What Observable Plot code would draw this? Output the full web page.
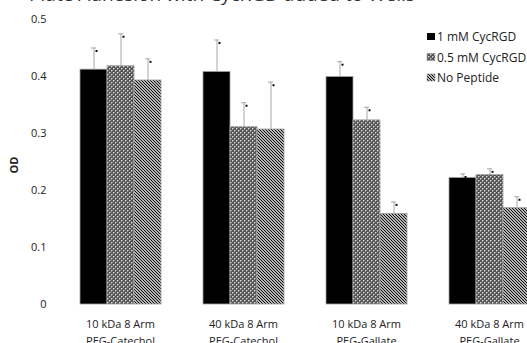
<!DOCTYPE html>
<html>
<head>
<meta charset="utf-8">
<script src="https://cdn.jsdelivr.net/npm/d3@7"></script>
<script src="https://cdn.jsdelivr.net/npm/@observablehq/plot@0.6"></script>
<style>
  html, body { margin: 0; padding: 0; background: white; overflow: hidden; }
  #chart { position: relative; width: 527px; height: 343px; }
</style>
</head>
<body>
<div id="chart"></div>
<script>
// ---- data ----
const groups = [
  "10 kDa 8 Arm\nPEG-Catechol",
  "40 kDa 8 Arm\nPEG-Catechol",
  "10 kDa 8 Arm\nPEG-Gallate",
  "40 kDa 8 Arm\nPEG-Gallate"
];
const series = ["1 mM CycRGD", "0.5 mM CycRGD", "No Peptide"];
const od1mM   = [0.412, 0.408, 0.399, 0.222];
const od05mM  = [0.418, 0.311, 0.323, 0.227];
const odNone  = [0.393, 0.307, 0.159, 0.169];
const err1mM  = [0.038, 0.056, 0.027, 0.007];
const err05mM = [0.057, 0.043, 0.023, 0.011];
const errNone = [0.038, 0.083, 0.021, 0.020];
const yTicks = [0, 0.1, 0.2, 0.3, 0.4, 0.5];
const yLabel = "OD";
const titleText = "Plate Adhesion with CycRGD added to Wells";

const values = [od1mM, od05mM, odNone];
const errors = [err1mM, err05mM, errNone];
const rows = groups.flatMap((g, i) => series.map((s, j) => ({
  group: g, series: s, value: values[j][i], err: errors[j][i]
})));
const fills = ["black", "url(#pat-checker)", "url(#pat-hatch)"];

const plot = Plot.plot({
  width: 527,
  height: 343,
  marginLeft: 78,
  marginRight: -4,
  marginTop: 19,
  marginBottom: 39,
  style: { fontFamily: "Open Sans", fontSize: "11px", color: "#222", background: "white", overflow: "visible" },
  fx: { domain: groups, paddingInner: 0.333, paddingOuter: 0, label: null, axis: null },
  x: { domain: series, padding: 0, axis: null },
  y: { domain: [0, 0.5], axis: null },
  color: { domain: series, range: fills },
  marks: [
    Plot.axisY({ ticks: yTicks, tickSize: 0, tickPadding: 33, label: null,
      tickFormat: d => d === 0 ? "0" : d.toFixed(1) }),
    Plot.axisFx({ anchor: "bottom", tickSize: 0, tickPadding: 12, lineHeight: 1.5, label: null }),
    Plot.barY(rows, { fx: "group", x: "series", y: "value", fill: "series",
      stroke: "#a0a0a0", strokeWidth: 0.8 }),
    Plot.ruleX(rows, { fx: "group", x: "series", y1: "value", y2: d => d.value + d.err,
      stroke: "#a8a8a8", strokeWidth: 1 }),
    Plot.tickY(rows, { fx: "group", x: "series", y: d => d.value + d.err,
      stroke: "#a8a8a8", strokeWidth: 1, insetLeft: 11, insetRight: 11 }),
    Plot.dot(rows, { fx: "group", x: "series", y: d => d.value + d.err,
      symbol: "square", r: 1.1, fill: "black", stroke: "none", dx: 2.5, dy: 3 })
  ]
});

document.getElementById("chart").appendChild(plot);

const svg = d3.select(plot);
const defs = svg.insert("defs", ":first-child");
const chk = defs.append("pattern").attr("id", "pat-checker")
  .attr("patternUnits", "userSpaceOnUse").attr("width", 4).attr("height", 4);
chk.append("rect").attr("width", 4).attr("height", 4).attr("fill", "#555");
[[0,0,"#d8d8d8"],[2,2,"#d8d8d8"],[1,0,"#999"],[0,1,"#999"],[3,2,"#999"],[2,3,"#999"]]
  .forEach(([x, y, c]) => chk.append("rect").attr("x", x).attr("y", y).attr("width", 1).attr("height", 1).attr("fill", c));
const hat = defs.append("pattern").attr("id", "pat-hatch")
  .attr("patternUnits", "userSpaceOnUse").attr("width", 3).attr("height", 3);
hat.append("rect").attr("width", 3).attr("height", 3).attr("fill", "white");
hat.append("path").attr("d", "M-1,-1L4,4M-1,2L1,4M2,-1L4,1")
  .attr("stroke", "black").attr("stroke-width", 1.1);

// title (cut off at top in the reference)
svg.append("text").attr("x", 222).attr("y", 1).attr("text-anchor", "middle")
  .attr("font-size", 19).attr("fill", "#333").text(titleText);

// y label
svg.append("text").attr("transform", "translate(18,165) rotate(-90)")
  .attr("text-anchor", "middle").attr("font-weight", "bold").attr("font-size", 11)
  .attr("fill", "#222").text(yLabel);

// legend
const lg = svg.append("g").attr("font-size", 12).attr("fill", "#222").attr("text-anchor", "start");
series.forEach((s, i) => {
  const cy = 37 + i * 20.5;
  lg.append("rect").attr("x", 427).attr("y", cy - 4).attr("width", 8).attr("height", 7)
    .attr("fill", fills[i]).attr("stroke", i === 0 ? "none" : "#888").attr("stroke-width", 0.5);
  lg.append("text").attr("x", 437).attr("y", cy + 4).text(s);
});
</script>
</body>
</html>
